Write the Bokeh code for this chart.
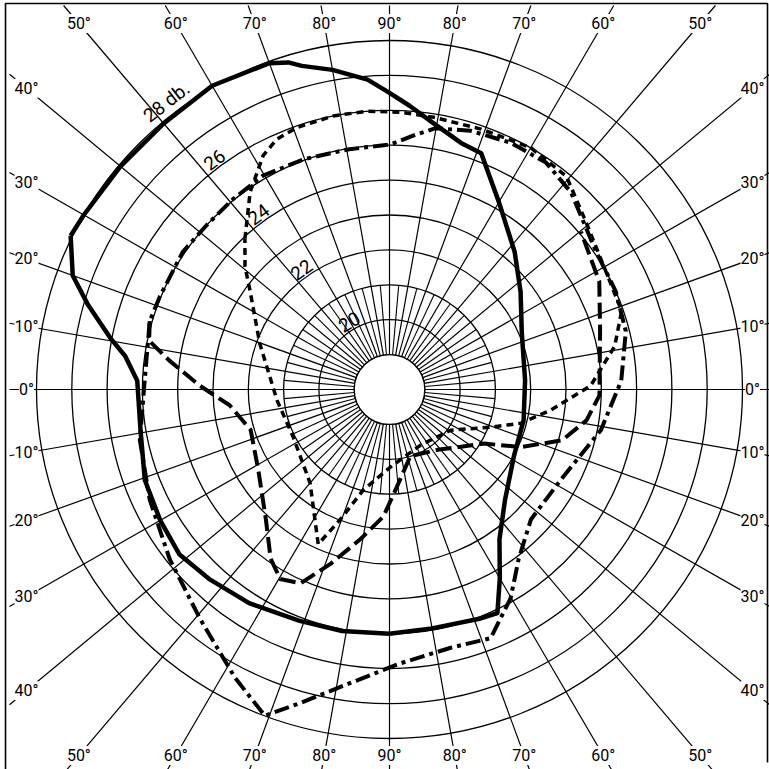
import numpy as np
from bokeh.plotting import figure
from bokeh.models import Range1d, Label
from bokeh.core.properties import value
from bokeh.embed import file_html
from bokeh.resources import INLINE

# ---------------- data (polar angle in degrees, level in dB) ----------------
solid_ang = [154, 150, 140, 130, 120, 110, 107, 105, 100, 94, 90, 86, 81, 74, 69, 60, 48, 37, 24, 4,
             347, 332, 316, 306, 300, 295.5, 291.5, 280, 270, 259, 249, 237, 227, 218.5, 210, 200.5,
             189.5, 178, 172.7, 169.4, 164, 160]
solid_db = [28.05, 28.0, 27.95, 27.95, 28.05, 27.95, 27.8, 27.6, 27.3, 26.9, 26.5, 26.15, 25.75, 25.35,
            25.25, 24.2, 23.3, 22.65, 22.1, 21.85, 21.9, 22.0, 22.55, 23.3, 24.25, 25.1, 25.05, 24.95,
            25.0, 25.05, 25.1, 25.3, 25.45, 25.6, 25.5, 25.4, 25.15, 25.15, 25.55, 26.05, 26.9, 27.55]

short_ang = [133.5, 124.9, 118.1, 114, 109.2, 101.5, 94.5, 87.7, 80.9, 70.8, 60, 50.6, 40.8, 28.8, 18.9,
             11, 1.1, 352.6, 345.5, 339.4, 326.1, 299, 270.7, 255.6, 249.5, 245.5, 230, 206.6,
             185.6, 160.4, 144.5, 139.3]
short_db = [23.95, 24.9, 25.6, 25.85, 25.95, 26.0, 26.0, 25.95, 25.9, 25.9, 26.0, 25.9, 25.35, 25.0, 24.95,
            24.5, 23.7, 22.6, 21.85, 21.07, 20.09, 19.82, 20.22, 20.97, 21.97, 22.87, 21.5, 21.05,
            21.2, 21.9, 22.85, 23.4]

# lower branch that leaves the dash-dot curve on the left and rejoins it on the right
long_ang = [163.9, 168.4, 172.5, 178.8, 185.7, 196.4, 211.7, 226.6, 235.2, 240.3, 245.6, 251.5, 259.1,
            267.3, 273.4, 287.2, 308.2, 330, 336.1, 343.4, 351, 358.4, 15.8, 27.5, 39.8]
long_db = [25.07, 24.95, 24.28, 23.38, 22.55, 22.1, 22.37, 23.1, 23.9, 24.25, 24.1, 23.27, 22.37,
           21.64, 20.88, 20.0, 20.2, 21.1, 22.07, 23.1, 23.65, 23.95, 24.2, 24.7, 25.06]

dashdot_ang = [177.9, 191.6, 204.9, 218, 230.7, 242.1, 249.3, 254.3, 262.5, 272.3, 283.2, 291.9, 299.8,
               307, 317.1, 332, 349, 2.2, 14, 23.7, 34, 47.7, 55.7, 64.1, 72.8, 80.1, 84.2, 89.8,
               99.8, 110.3, 120.3, 129.1, 137.6, 146, 157.7, 163.9]
dashdot_db = [24.94, 25.22, 25.49, 25.9, 26.48, 27.35, 27.99, 27.33, 26.48, 25.85, 25.6, 25.68, 24.9,
              24.08, 23.47, 23.5, 24.1, 24.57, 24.9, 25.0, 25.06, 25.64, 25.87, 25.86, 25.76, 25.6,
              25.34, 25.02, 24.98, 25.03, 25.1, 25.03, 25.0, 25.06, 25.03, 25.07]

ring_db = [19, 20, 21, 22, 23, 24, 25, 26, 27, 28]
spoke_ang = list(range(0, 360, 10))
minor_ang = list(range(5, 360, 10))
ring_label_text = ["20", "22", "24", "26", "28 db."]
ring_label_db = [20, 22, 24, 26, 28]
ring_label_ang = [120.5, 126, 126.5, 127, 127.5]

BASE_DB = 18.0   # dB at the centre of the chart

# ---------------- geometry ----------------
W = H = 769
SX, SY = 35.3, 34.9          # pixels per dB step
CX, CY = 389, 389            # centre inside the canvas (pixels)
x0, x1 = -CX / SX, (W - CX) / SX
y0, y1 = -(H - CY) / SY, CY / SY

p = figure(width=W, height=H, x_range=Range1d(x0, x1), y_range=Range1d(y0, y1),
           output_backend="svg", toolbar_location=None, min_border=0,
           x_axis_location=None, y_axis_location=None)
p.grid.visible = False
p.outline_line_color = None
p.background_fill_color = "white"

FONT = "Roboto"

def xy(ang, db):
    a = np.radians(np.asarray(ang, float))
    r = np.asarray(db, float) - BASE_DB
    return r * np.cos(a), r * np.sin(a)

def px(xp):   # canvas pixel -> data x
    return x0 + xp / SX

def py(yp):   # canvas pixel (from top) -> data y
    return y1 - yp / SY

# frame
p.line([px(5), px(5), px(767), px(767)], [py(769), py(3), py(3), py(762)],
       line_color="black", line_width=1.6)

# rings
for d in ring_db:
    rr = d - BASE_DB
    p.ellipse(x=0, y=0, width=2 * rr, height=2 * rr, fill_color=None,
              line_color="black", line_width=1.3)

def ray_end(ang, hx, hy):
    a = np.radians(ang)
    c, s = np.cos(a), np.sin(a)
    tx = hx / abs(c) if abs(c) > 1e-9 else 1e9
    ty = hy / abs(s) if abs(s) > 1e-9 else 1e9
    t = min(tx, ty)
    return t * c, t * s

# spokes from the inner circle to the frame
rin = ring_db[0] - BASE_DB
sx0, sy0, sx1, sy1 = [], [], [], []
for a in spoke_ang:
    ex, ey = ray_end(a, 380 / SX, 384 / SY)
    sx0.append(rin * np.cos(np.radians(a)))
    sy0.append(rin * np.sin(np.radians(a)))
    sx1.append(ex)
    sy1.append(ey)
p.segment(sx0, sy0, sx1, sy1, line_color="black", line_width=1.2)

rmin = ring_db[2] - BASE_DB
mx0 = [rin * np.cos(np.radians(a)) for a in minor_ang]
my0 = [rin * np.sin(np.radians(a)) for a in minor_ang]
mx1 = [rmin * np.cos(np.radians(a)) for a in minor_ang]
my1 = [rmin * np.sin(np.radians(a)) for a in minor_ang]
p.segment(mx0, my0, mx1, my1, line_color="black", line_width=1.1)

# inner white disc
p.ellipse(x=0, y=0, width=2 * rin, height=2 * rin, fill_color="white",
          line_color="black", line_width=1.3)

# curves
def closed(ang, db):
    x, y = xy(ang, db)
    return list(x) + [x[0]], list(y) + [y[0]]

x, y = closed(solid_ang, solid_db)
p.line(x, y, line_color="black", line_width=4.5, line_join="round")
x, y = closed(short_ang, short_db)
p.line(x, y, line_color="black", line_width=3.5, line_dash="7 5", line_join="round")
x, y = xy(long_ang, long_db)
p.line(list(x), list(y), line_color="black", line_width=4, line_dash="16 6", line_join="round")
x, y = closed(dashdot_ang, dashdot_db)
p.line(x, y, line_color="black", line_width=4, line_dash="15 5 4 5", line_join="round")

# ring labels (rotated along the ring)
lx, ly = xy(ring_label_ang, np.asarray(ring_label_db) + 0.05)
p.text(lx, ly, text=ring_label_text, angle=[np.radians(a - 90) for a in ring_label_ang],
       text_align="center", text_baseline="bottom", text_font=value(FONT),
       text_font_size="19px", text_color="black")

# angle labels (elevation angle, both sides)
for a in spoke_ang:
    lxx, lyy = ray_end(a, 363 / SX, 366 / SY)
    if a <= 90:
        e = a
    elif a <= 180:
        e = 180 - a
    elif a <= 270:
        e = a - 180
    else:
        e = 360 - a
    p.add_layout(Label(x=lxx, y=lyy, text=f"{e}°", text_align="center", text_baseline="middle",
                       text_font=FONT, text_font_size="16px", text_color="black",
                       background_fill_color="white"))

open("out.html", "w").write(file_html(p, INLINE))
